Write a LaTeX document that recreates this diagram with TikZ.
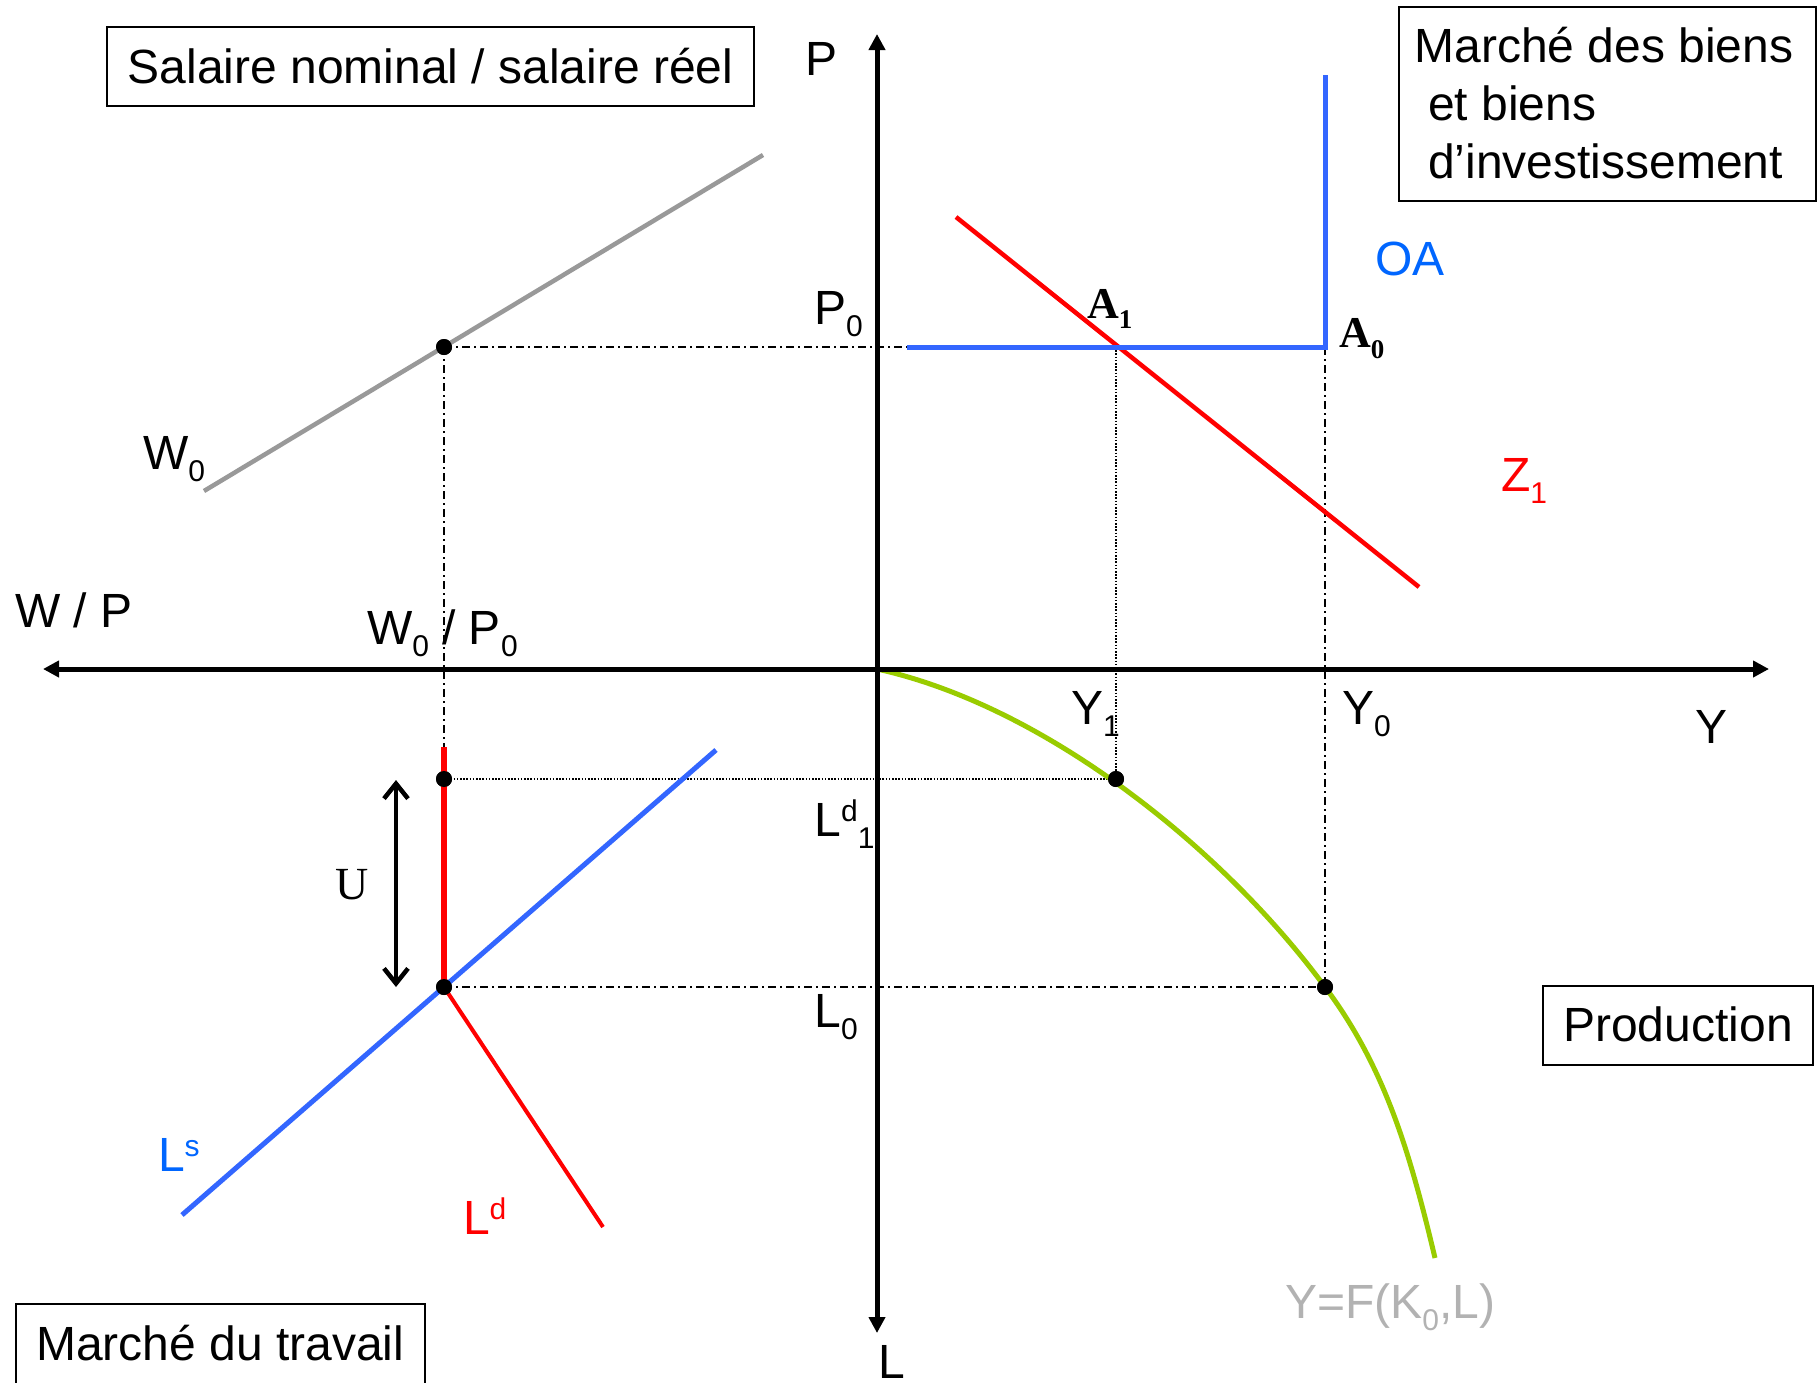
\documentclass[tikz,border=0pt]{standalone}
\usepackage{fontspec}
\setmainfont{Liberation Sans}
\newfontfamily\tms{Liberation Serif}
\usetikzlibrary{arrows.meta}
\definecolor{lineblue}{HTML}{3366FF}
\definecolor{txtblue}{HTML}{0066FF}
\definecolor{lgreen}{HTML}{99CC00}
\definecolor{lgrey}{HTML}{999999}
\definecolor{tgrey}{HTML}{B2B2B2}
\newcommand\lsub[1]{\raisebox{-12pt}{\fontsize{30}{30}\selectfont #1}}
\newcommand\lsup[1]{\raisebox{15pt}{\fontsize{30}{30}\selectfont #1}}
\begin{document}
\begin{tikzpicture}[x=1pt,y=-1pt,
  every node/.style={inner sep=0pt, outer sep=0pt, font=\fontsize{48}{58}\selectfont},
  lbl/.style={anchor=base west},
  boxnode/.style={draw, line width=2pt},
  axisline/.style={line width=5pt, {Triangle[length=16pt,width=16pt]}-{Triangle[length=16pt,width=16pt]}},
  dashdot/.style={line width=1.6pt, dash pattern=on 8pt off 4pt on 2pt off 4pt},
  dotline/.style={line width=1.6pt, dash pattern=on 1.6pt off 1.6pt},
  bigdot/.style={circle, fill=black, minimum size=16pt},
  timesb/.style={font=\tms\bfseries\fontsize{44}{44}\selectfont},
]
\useasboundingbox (0,0) rectangle (1818,1382);

% key points
\coordinate (xl) at (43,669);
\coordinate (xr) at (1769,669);
\coordinate (yt) at (877,34);
\coordinate (yb) at (877,1333);
\coordinate (O) at (877,669);
\coordinate (blueL) at (907,347);
\coordinate (A1) at (1116,347);
\coordinate (A0) at (1325,347);
\coordinate (blueT) at (1325,75);
\coordinate (rtop) at (444,747);
\coordinate (gW1) at (204,491);
\coordinate (gW2) at (763,155);
\coordinate (z1) at (956,217);
\coordinate (z2) at (1419,587);
\coordinate (ls1) at (182,1215);
\coordinate (ls2) at (716,750);
\coordinate (ld2) at (603,1227);
\coordinate (u1) at (396,780);
\coordinate (u2) at (396,987);
\coordinate (gEnd) at (1435,1258);

% dots (named)
\node[bigdot] (dW) at (444,347) {};
\node[bigdot] (dL1) at (444,779) {};
\node[bigdot] (dL0) at (444,987) {};
\node[bigdot] (dY1) at (1116,779) {};
\node[bigdot] (dY0) at (1325,987) {};

% guide lines
\draw[dashdot] (dW.center) -- (blueL);
\draw[dashdot] (dW.center) -- (rtop);
\draw[dotline] (dL1.center) -- (dY1.center);
\draw[dotline] (A1) -- (dY1.center);
\draw[dashdot] (A0) -- (dY0.center);
\draw[dashdot] (dL0.center) -- (dY0.center);

% curves
\draw[lgrey, line width=4.5pt] (gW1) -- (gW2);
\draw[red, line width=4.5pt] (z1) -- (z2);
\draw[lineblue, line width=5pt] (blueL) -- (A0) -- (blueT);
\draw[red, line width=5.5pt] (rtop) -- (dL0.center);
\draw[red, line width=4pt] (dL0.center) -- (ld2);
\draw[lineblue, line width=5pt] (ls1) -- (ls2);
\draw[lgreen, line width=5pt] (O) .. controls (1047,706.4) and (1225,851) .. (dY0.center)
   .. controls (1385,1067) and (1410,1153) .. (gEnd);

% axes
\draw[axisline] (xl) -- (xr);
\draw[axisline] (yt) -- (yb);

% U arrow
\draw[line width=4pt, {Straight Barb[length=15pt,width=24pt,line width=4.5pt]}-{Straight Barb[length=15pt,width=24pt,line width=4.5pt]}] (u1) -- (u2);

% dots on top
\fill (dW) circle (8pt);
\fill (dL1) circle (8pt);
\fill (dL0) circle (8pt);
\fill (dY1) circle (8pt);
\fill (dY0) circle (8pt);

% boxes
\node[boxnode, minimum width=647pt, text height=56pt, text depth=23pt] (b1) at (430.5,66.5) {Salaire nominal / salaire réel};
\node[boxnode, minimum width=417pt, minimum height=194pt] (b2) at (1607.5,104) {};
\node[lbl] (b2a) at (1414.5,62.5) {Marché des biens};
\node[lbl] (b2b) at (1428,120.5) {et biens};
\node[lbl] (b2c) at (1428,178.5) {d’investissement};
\node[boxnode, minimum width=270pt, text height=55pt, text depth=24pt] (b3) at (1678,1025.5) {Production};
\node[boxnode, minimum width=409.5pt, text height=56pt, text depth=32pt] (b4) at (220.25,1348) {Marché du travail};

% labels
\node[lbl] (tP) at (805,75) {P};
\node[lbl] (tP0) at (814,324) {P\lsub{0}};
\node[lbl] (tW0) at (143,469) {W\lsub{0}};
\node[lbl] (tWP) at (15,627) {W / P};
\node[lbl] (tW0P0) at (367,644) {W\lsub{0} / P\lsub{0}};
\node[lbl] (tY1) at (1071,724) {Y\lsub{1}};
\node[lbl] (tY0) at (1342,724) {Y\lsub{0}};
\node[lbl] (tY) at (1695,743) {Y};
\node[lbl] (tLd1) at (814.5,836) {L\lsup{d}\lsub{1}};
\node[lbl] (tL0) at (814.5,1027) {L\lsub{0}};
\node[lbl] (tL) at (878,1378) {L};
\node[lbl, text=txtblue] (tOA) at (1375,275) {OA};
\node[lbl, text=red] (tZ1) at (1501,491) {Z\lsub{1}};
\node[lbl, timesb] (tA1) at (1087,318) {A\raisebox{-10pt}{\fontsize{27}{27}\selectfont 1}};
\node[lbl, timesb] (tA0) at (1339,347) {A\raisebox{-11pt}{\fontsize{27}{27}\selectfont 0}};
\node[lbl, font=\tms\fontsize{46}{46}\selectfont] (tU) at (335,899) {U};
\node[lbl, text=txtblue] (tLs) at (158,1171) {L\lsup{s}};
\node[lbl, text=red] (tLd) at (463,1234) {L\lsup{d}};
\node[lbl, text=tgrey] (tF) at (1285,1318) {Y=F(K\lsub{0},L)};
\end{tikzpicture}
\end{document}
